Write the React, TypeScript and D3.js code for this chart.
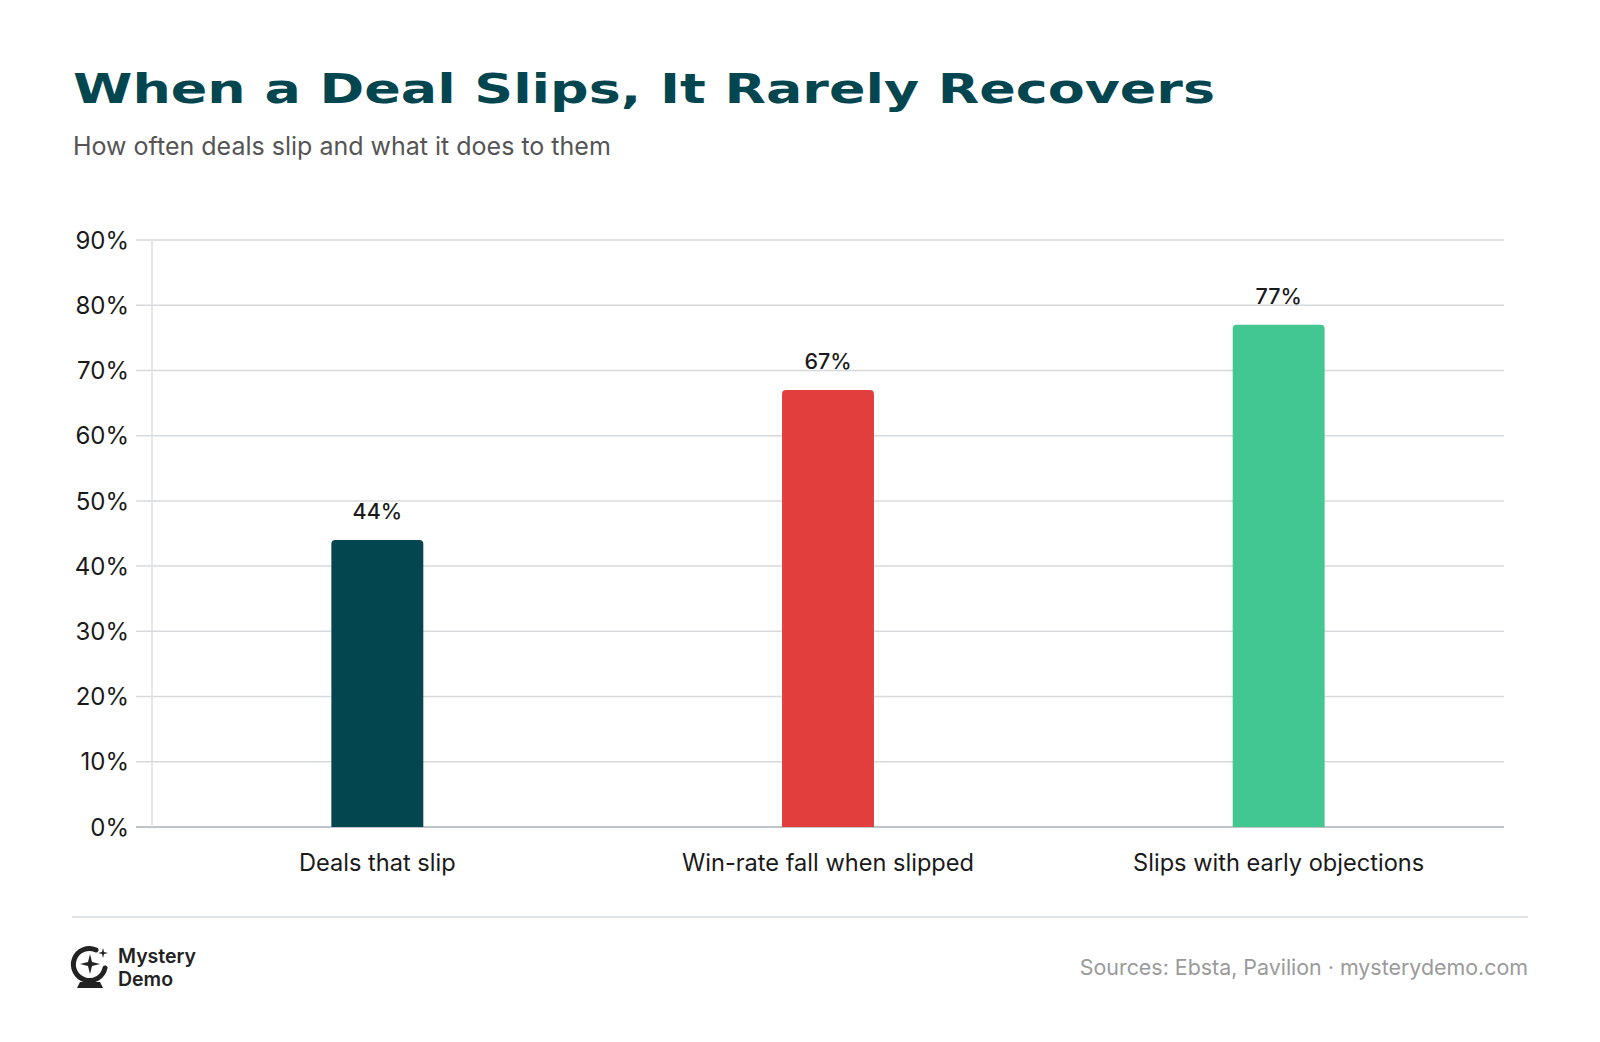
import React from "react";
import * as d3 from "d3";

const categories = ["Deals that slip", "Win-rate fall when slipped", "Slips with early objections"];
const values = [44, 67, 77];
const barColors = ["#03464F", "#E33E3E", "#41C78F"];
const yTicks = [0, 10, 20, 30, 40, 50, 60, 70, 80, 90];

const W = 1600;
const H = 1042;
const plot = { left: 152, right: 1504, top: 240, bottom: 827 };
const font = "Inter, 'Noto Sans', sans-serif";

export default function App() {
  const x = d3.scaleBand<string>()
    .domain(categories)
    .range([plot.left, plot.right])
    .padding(0);

  const y = d3.scaleLinear()
    .domain([0, 90])
    .range([plot.bottom, plot.top]);

  const barW = x.bandwidth() * 0.204;
  const r = 4;

  // bar with rounded top corners only
  const barPath = (cx: number, v: number) => {
    const x0 = cx - barW / 2;
    const x1 = cx + barW / 2;
    const yt = y(v);
    const yb = y(0);
    return `M${x0},${yb} L${x0},${yt + r} Q${x0},${yt} ${x0 + r},${yt} L${x1 - r},${yt} Q${x1},${yt} ${x1},${yt + r} L${x1},${yb} Z`;
  };

  return (
    <svg width={W} height={H} style={{ display: "block", position: "absolute", left: 0, top: 0, background: "#fff" }}>
      <rect width={W} height={H} fill="#fff" />

      {/* title */}
      <text x={73} y={103} fontFamily="'DejaVu Sans', sans-serif" fontWeight={900} fontSize={40}
        fill="#03464F" textLength={1142} lengthAdjust="spacingAndGlyphs">
        When a Deal Slips, It Rarely Recovers
      </text>
      <text x={73} y={155} fontFamily={font} fontSize={25} fill="#555">
        How often deals slip and what it does to them
      </text>

      {/* gridlines + y ticks */}
      {yTicks.map((t) => (
        <g key={t}>
          <line x1={136} x2={plot.right} y1={y(t)} y2={y(t)}
            stroke={t === 0 ? "#bfc4c9" : "#d7dadd"} strokeWidth={t === 0 ? 2 : 1.5} />
          <text x={129} y={y(t)} dy="0.36em" textAnchor="end" fontFamily={font} fontSize={24} fill="#1a1a1a">
            {t}%
          </text>
        </g>
      ))}
      <line x1={plot.left} x2={plot.left} y1={plot.top} y2={plot.bottom} stroke="#dcdfe2" strokeWidth={1.5} />

      {/* bars */}
      {categories.map((c, i) => {
        const cx = (x(c) ?? 0) + x.bandwidth() / 2;
        return (
          <g key={c}>
            <path d={barPath(cx, values[i])} fill={barColors[i]} />
            <text x={cx} y={y(values[i]) - 21} textAnchor="middle" fontFamily={font} fontWeight={500}
              fontSize={21.5} fill="#1a1a1a">
              {values[i]}%
            </text>
            <text x={cx} y={871} textAnchor="middle" fontFamily={font} fontSize={23.6} fill="#1a1a1a">
              {c}
            </text>
          </g>
        );
      })}

      {/* footer */}
      <line x1={72} x2={1528} y1={917} y2={917} stroke="#d5dadf" strokeWidth={1.5} />

      <g transform="translate(72,946)">
        <path d="M24,4 A16,16 0 1 0 33,22" fill="none" stroke="#222" strokeWidth={5} strokeLinecap="round" />
        <path d="M18,8 L20,16 L28,18 L20,20 L18,28 L16,20 L8,18 L16,16 Z" fill="#222" />
        <path d="M31,2 L32,6 L36,7 L32,8 L31,12 L30,8 L26,7 L30,6 Z" fill="#222" />
        <path d="M8,36 L28,36 L31,42 L5,42 Z" fill="#222" />
      </g>
      <text x={118} y={963} fontFamily={font} fontWeight={600} fontSize={19.5} fill="#222">Mystery</text>
      <text x={118} y={986} fontFamily={font} fontWeight={600} fontSize={19.5} fill="#222">Demo</text>

      <text x={1528} y={975} textAnchor="end" fontFamily={font} fontSize={21.4} fill="#9a9a9a">
        Sources: Ebsta, Pavilion · mysterydemo.com
      </text>
    </svg>
  );
}
